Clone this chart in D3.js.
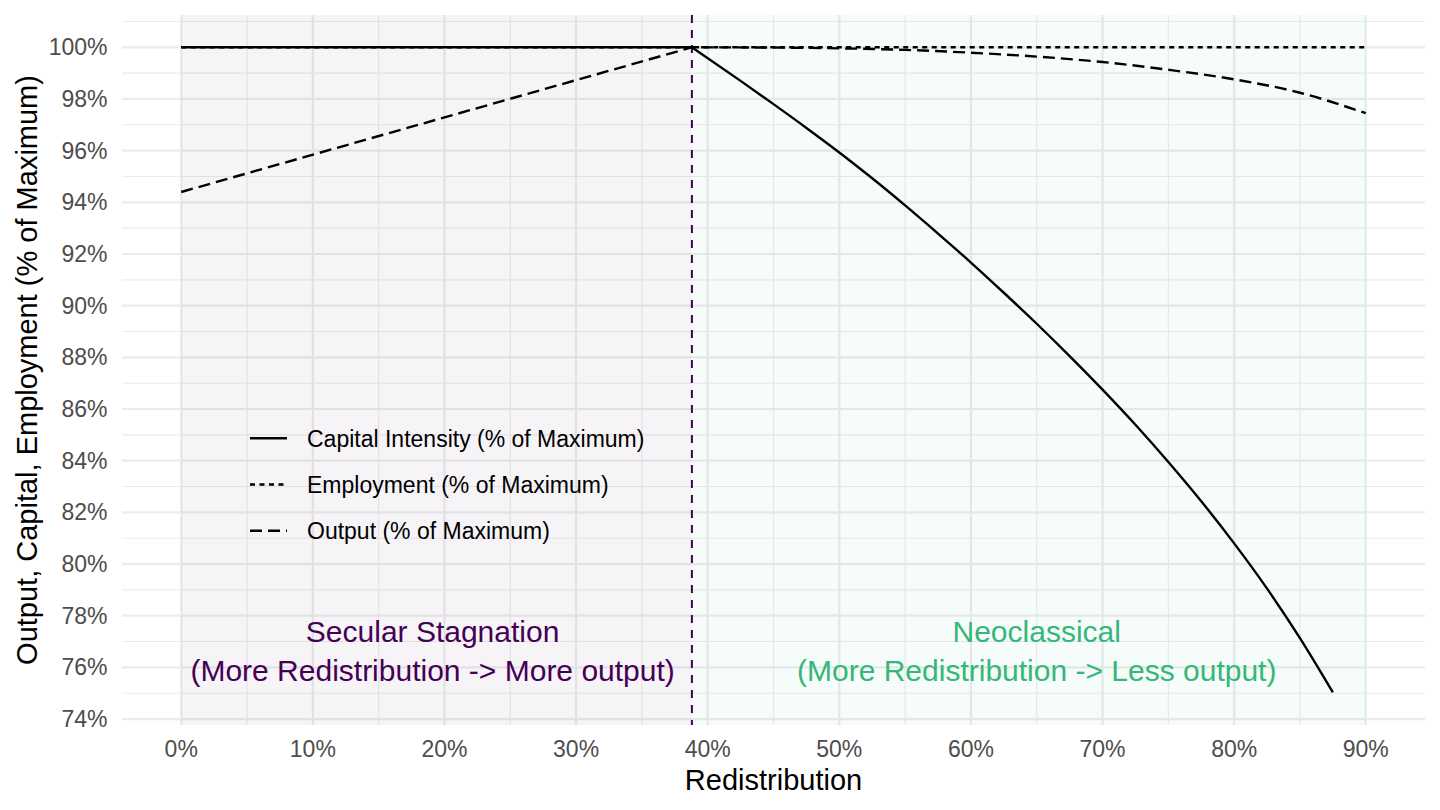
<!DOCTYPE html>
<html>
<head>
  <meta charset='utf-8' />
  <title>Redistribution regimes</title>
  <style>
    body {
      margin: 0;
      background: #ffffff;
    }
    svg text {
      font-family: 'Liberation Sans', Arial, Helvetica, sans-serif;
    }
  </style>
</head>
<body>
  <div id="wrapper"></div>

<script src='https://d3js.org/d3.v7.min.js' charset='utf-8'></script>
<script>
  // values
  const kink = 0.388

  const capitalX = [0, 0.388, 0.425, 0.45, 0.475, 0.5, 0.525, 0.55, 0.575, 0.6, 0.625, 0.65,
                    0.675, 0.7, 0.725, 0.75, 0.775, 0.8, 0.825, 0.85, 0.875]
  const capitalY = [100, 100, 98.7, 97.8, 96.88, 95.93, 94.93, 93.88, 92.79, 91.67, 90.5, 89.3,
                    88.05, 86.75, 85.39, 83.95, 82.43, 80.8, 79.05, 77.13, 75.03]

  const employmentX = [0, 0.9]
  const employmentY = [100, 100]

  const outputX = [0, 0.388, 0.45, 0.5, 0.55, 0.6, 0.65, 0.7, 0.75, 0.8, 0.85, 0.9]
  const outputY = [94.4, 100, 99.99, 99.96, 99.9, 99.79, 99.64, 99.43, 99.13, 98.76, 98.24, 97.45]

  const xTicks = [0, 0.1, 0.2, 0.3, 0.4, 0.5, 0.6, 0.7, 0.8, 0.9]
  const xMinor = [0.05, 0.15, 0.25, 0.35, 0.45, 0.55, 0.65, 0.75, 0.85]
  const yTicks = [74, 76, 78, 80, 82, 84, 86, 88, 90, 92, 94, 96, 98, 100]
  const yMinor = [75, 77, 79, 81, 83, 85, 87, 89, 91, 93, 95, 97, 99, 101]

  const seriesNames = ['Capital Intensity (% of Maximum)', 'Employment (% of Maximum)', 'Output (% of Maximum)']
  const seriesDash = [null, '5,4.5', '12,6']

  const regionLabels = [
    ['Secular Stagnation', '(More Redistribution -> More output)'],
    ['Neoclassical', '(More Redistribution -> Less output)']
  ]
  const regionColors = ['#440154', '#35b779']
  const regionLabelX = [0.191, 0.65]
  const regionLabelY = 76.6

  const width = 1440
  const height = 810
  const panel = { left: 122, right: 1425, top: 15, bottom: 725 }

  const svg = d3.select('#wrapper')
    .append('svg')
      .attr('width', width)
      .attr('height', height)

  const x = d3.scaleLinear()
    .domain([-0.045, 0.945])
    .range([panel.left, panel.right])

  const y = d3.scaleLinear()
    .domain([73.77, 101.25])
    .range([panel.bottom, panel.top])

  // grid, minor first
  const grid = svg.append('g')

  grid.selectAll('.xminor')
    .data(xMinor)
    .enter()
    .append('line')
      .attr('x1', d => x(d)).attr('x2', d => x(d))
      .attr('y1', panel.top).attr('y2', panel.bottom)
      .attr('stroke', '#ebebeb')
      .attr('stroke-width', 1.1)

  grid.selectAll('.yminor')
    .data(yMinor)
    .enter()
    .append('line')
      .attr('x1', panel.left).attr('x2', panel.right)
      .attr('y1', d => y(d)).attr('y2', d => y(d))
      .attr('stroke', '#ebebeb')
      .attr('stroke-width', 1.1)

  grid.selectAll('.xmajor')
    .data(xTicks)
    .enter()
    .append('line')
      .attr('x1', d => x(d)).attr('x2', d => x(d))
      .attr('y1', panel.top).attr('y2', panel.bottom)
      .attr('stroke', '#ebebeb')
      .attr('stroke-width', 2.2)

  grid.selectAll('.ymajor')
    .data(yTicks)
    .enter()
    .append('line')
      .attr('x1', panel.left).attr('x2', panel.right)
      .attr('y1', d => y(d)).attr('y2', d => y(d))
      .attr('stroke', '#ebebeb')
      .attr('stroke-width', 2.2)

  // shaded regimes
  const regions = [[0, kink], [kink, 0.9]]
  svg.selectAll('rect.region')
    .data(regions)
    .enter()
    .append('rect')
      .attr('class', 'region')
      .attr('x', d => x(d[0]))
      .attr('width', d => x(d[1]) - x(d[0]))
      .attr('y', panel.top)
      .attr('height', panel.bottom - panel.top)
      .attr('fill', (d, i) => regionColors[i])
      .attr('fill-opacity', 0.045)

  // vertical marker at the switch point
  svg.append('line')
    .attr('x1', x(kink)).attr('x2', x(kink))
    .attr('y1', panel.top).attr('y2', panel.bottom)
    .attr('stroke', '#440154')
    .attr('stroke-width', 2)
    .attr('stroke-dasharray', '8,7')

  // the three series: straight up to the kink, smooth after it
  const straight = d3.line()
    .x(d => x(d[0]))
    .y(d => y(d[1]))

  const smooth = d3.line()
    .x(d => x(d[0]))
    .y(d => y(d[1]))
    .curve(d3.curveMonotoneX)

  const pathFor = pts => {
    const k = pts.findIndex(p => p[0] >= kink)
    if (k <= 0 || pts.length - k < 3) return straight(pts)
    return straight(pts.slice(0, k + 1)) + smooth(pts.slice(k)).replace(/^M/, 'L')
  }

  const series = [
    d3.zip(capitalX, capitalY),
    d3.zip(employmentX, employmentY),
    d3.zip(outputX, outputY)
  ]

  svg.selectAll('path.series')
    .data(series)
    .enter()
    .append('path')
      .attr('class', 'series')
      .attr('d', pathFor)
      .attr('fill', 'none')
      .attr('stroke', '#000000')
      .attr('stroke-width', 2.4)
      .attr('stroke-dasharray', (d, i) => seriesDash[i])

  // region annotations
  regionLabels.forEach((lines, i) => {
    const t = svg.append('text')
      .attr('text-anchor', 'middle')
      .attr('fill', regionColors[i])
      .style('font-size', '30px')
    lines.forEach((s, j) => {
      t.append('tspan')
        .attr('x', x(regionLabelX[i]))
        .attr('y', y(regionLabelY) - 10 + j * 39)
        .text(s)
    })
  })

  // axes labels
  svg.selectAll('text.xtick')
    .data(xTicks)
    .enter()
    .append('text')
      .attr('class', 'xtick')
      .attr('x', d => x(d))
      .attr('y', 757)
      .attr('text-anchor', 'middle')
      .attr('fill', '#4d4d4d')
      .style('font-size', '23px')
      .text(d => d3.format('.0%')(d))

  svg.selectAll('text.ytick')
    .data(yTicks)
    .enter()
    .append('text')
      .attr('class', 'ytick')
      .attr('x', 107.5)
      .attr('y', d => y(d) + 8)
      .attr('text-anchor', 'end')
      .attr('fill', '#4d4d4d')
      .style('font-size', '23px')
      .text(d => d + '%')

  svg.append('text')
    .attr('x', (panel.left + panel.right) / 2)
    .attr('y', 790)
    .attr('text-anchor', 'middle')
    .attr('fill', '#000000')
    .style('font-size', '29px')
    .text('Redistribution')

  svg.append('text')
    .attr('transform', `translate(36.5, ${(panel.top + panel.bottom) / 2}) rotate(-90)`)
    .attr('text-anchor', 'middle')
    .attr('fill', '#000000')
    .style('font-size', '29px')
    .text('Output, Capital, Employment (% of Maximum)')

  // legend inside the panel
  const legend = svg.append('g')
    .attr('transform', 'translate(250, 438.3)')

  const keys = legend.selectAll('g')
    .data(seriesNames)
    .enter()
    .append('g')
      .attr('transform', (d, i) => `translate(0, ${i * 46.2})`)

  keys.append('line')
    .attr('x1', 0).attr('x2', 37)
    .attr('y1', 0).attr('y2', 0)
    .attr('stroke', '#000000')
    .attr('stroke-width', 2.4)
    .attr('stroke-dasharray', (d, i) => seriesDash[i])

  keys.append('text')
    .attr('x', 57)
    .attr('y', 8.3)
    .attr('fill', '#000000')
    .style('font-size', '23px')
    .text(d => d)
</script>
</body>
</html>
